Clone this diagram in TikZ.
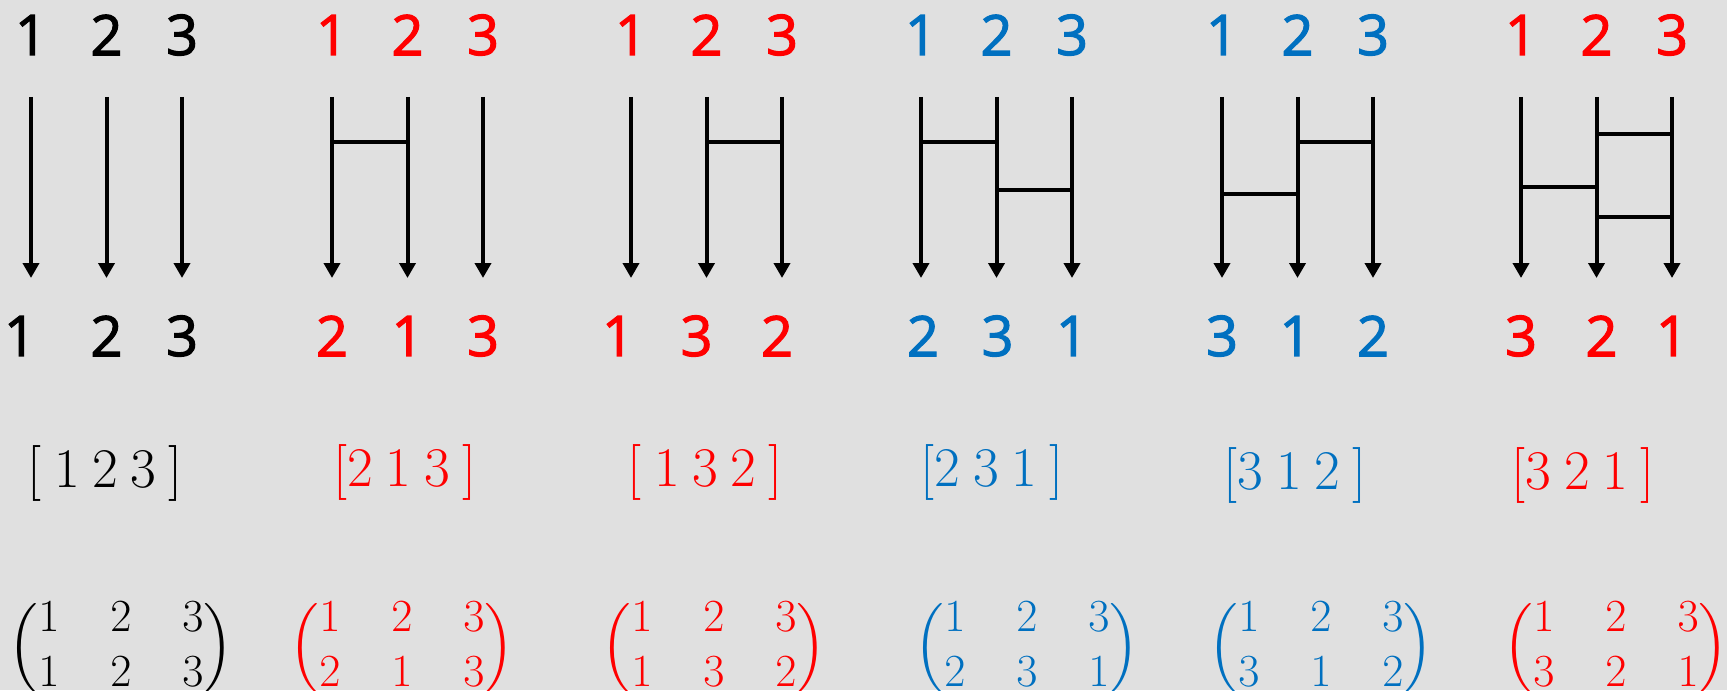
\RequirePackage{fix-cm}
\documentclass[tikz,border=0pt]{standalone}
\usepackage{fontspec}
\usepackage{amsmath}
\usetikzlibrary{arrows.meta}
\newfontfamily\labelfont{Open Sans}[FakeBold=2]
\definecolor{bgray}{HTML}{E0E0E0}
\definecolor{pred}{HTML}{FF0000}
\definecolor{pblue}{HTML}{0070C0}
\setlength{\arraycolsep}{12.75pt}
\newcommand{\permfont}{\fontsize{28}{32}\selectfont\spaceskip=0.22em\relax}
\newcommand{\matfont}{\fontsize{23}{27.5}\selectfont\delimiterfactor=780\delimitershortfall=12pt\relax}

\begin{document}
\begin{tikzpicture}[x=0.5pt,y=-0.5pt,
  wire/.style={line width=2pt,-{Triangle[length=7.5pt,width=8pt]}},
  rung/.style={line width=1.8pt},
  digit/.style={font=\labelfont\fontsize{28}{32}\selectfont},
  perm/.style={font=\permfont},
  twoline/.style={font=\matfont}]
  \clip (0,0) rectangle (1727,690);
  \fill[bgray] (0,0) rectangle (1727,690);

  % ladders: x of first line, colour, order at the bottom (digit/shift)
  \foreach \g/\xa/\c/\lo in {1/31/black/{1/-11,2/0,3/0}, 2/332/pred/{2/0,1/0,3/0},
                             3/631/pred/{1/-13,3/-10,2/-5}, 4/921/pblue/{2/2,3/1,1/0},
                             5/1222/pblue/{3/0,1/-2,2/0}, 6/1521/pred/{3/0,2/5,1/0}} {
    \foreach \lbl/\dx [count=\i] in \lo {
      \pgfmathsetmacro{\x}{\xa+75.5*(\i-1)}
      \node[digit,text=\c] (top\g\i) at (\x,35) {\i};
      \node[digit,text=\c] (bot\g\i) at (\x+\dx,336) {\lbl};
      \coordinate (s\g\i) at (\x,97);
      \coordinate (e\g\i) at (\x,278);
      \draw[wire] (s\g\i) -- (e\g\i);
    }
  }

  % rungs
  \draw[rung] (s21 |- 0,142) -- (s22 |- 0,142);
  \draw[rung] (s32 |- 0,142) -- (s33 |- 0,142);
  \draw[rung] (s41 |- 0,142) -- (s42 |- 0,142);
  \draw[rung] (s42 |- 0,190) -- (s43 |- 0,190);
  \draw[rung] (s52 |- 0,142) -- (s53 |- 0,142);
  \draw[rung] (s51 |- 0,194) -- (s52 |- 0,194);
  \draw[rung] (s62 |- 0,134) -- (s63 |- 0,134);
  \draw[rung] (s61 |- 0,187) -- (s62 |- 0,187);
  \draw[rung] (s62 |- 0,217) -- (s63 |- 0,217);

  % one-line notation
  \node[perm] (p1) at (105,473) {[ 1 2 3 ]};
  \node[perm,text=pred] (p2) at (405,472) {[2 1 3 ]};
  \node[perm,text=pred] (p3) at (705,472) {[ 1 3 2 ]};
  \node[perm,text=pblue] (p4) at (992,472) {[2 3 1 ]};
  \node[perm,text=pblue] (p5) at (1295,475) {[3 1 2 ]};
  \node[perm,text=pred] (p6) at (1583,475) {[3 2 1 ]};

  % two-line notation
  \node[twoline] (m1) at (121,648) {$\begin{pmatrix}1&2&3\\1&2&3\end{pmatrix}$};
  \node[twoline,text=pred] (m2) at (402,648) {$\begin{pmatrix}1&2&3\\2&1&3\end{pmatrix}$};
  \node[twoline,text=pred] (m3) at (714,648) {$\begin{pmatrix}1&2&3\\1&3&2\end{pmatrix}$};
  \node[twoline,text=pblue] (m4) at (1027,648) {$\begin{pmatrix}1&2&3\\2&3&1\end{pmatrix}$};
  \node[twoline,text=pblue] (m5) at (1321,648) {$\begin{pmatrix}1&2&3\\3&1&2\end{pmatrix}$};
  \node[twoline,text=pred] (m6) at (1616,648) {$\begin{pmatrix}1&2&3\\3&2&1\end{pmatrix}$};
\end{tikzpicture}
\end{document}
